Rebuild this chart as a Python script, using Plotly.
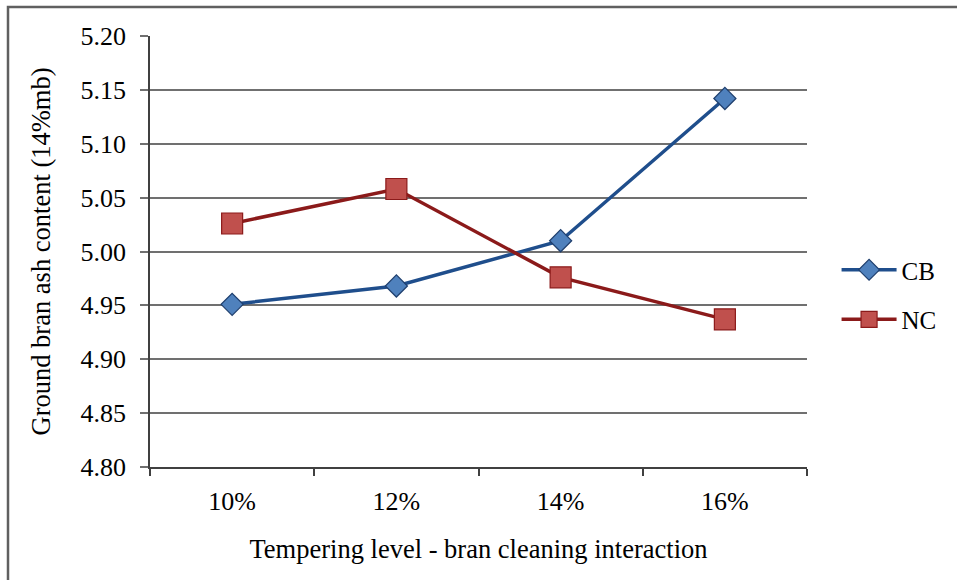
import plotly.graph_objects as go

categories = ["10%", "12%", "14%", "16%"]
cb_values = [4.951, 4.968, 5.010, 5.142]
nc_values = [5.026, 5.058, 4.976, 4.937]
y_ticks = [4.80, 4.85, 4.90, 4.95, 5.00, 5.05, 5.10, 5.15, 5.20]

FONT = "Liberation Serif"

fig = go.Figure()
fig.add_trace(go.Scatter(
    x=categories, y=cb_values, name="CB", mode="lines+markers",
    legendgroup="cb",
    line=dict(color="#1F4E8C", width=3.5),
    marker=dict(symbol="diamond", size=17, color="#4F81BD",
                line=dict(color="#1F3F6E", width=1.2)),
))
fig.add_trace(go.Scatter(
    x=categories, y=nc_values, name="NC", mode="lines+markers",
    legendgroup="nc",
    line=dict(color="#8B1A1A", width=3.5),
    marker=dict(symbol="square", size=21, color="#C0504D",
                line=dict(color="#8B1A1A", width=1.2)),
))

fig.update_layout(
    width=957, height=580,
    margin=dict(l=150, r=150, t=36, b=113),
    paper_bgcolor="white", plot_bgcolor="white",
    font=dict(family=FONT, size=26, color="#000000"),
    showlegend=True,
    legend=dict(x=1.045, y=0.40, xanchor="left", yanchor="middle",
                font=dict(family=FONT, size=25, color="#000000"),
                tracegroupgap=14, traceorder="grouped", itemwidth=55,
                bgcolor="rgba(0,0,0,0)"),
    xaxis=dict(
        type="category", tickson="boundaries", range=[-0.5, 3.5],
        ticks="outside", ticklen=7, tickcolor="#404040", tickwidth=1.5,
        showline=True, linecolor="#404040", linewidth=1.5,
        showgrid=False, zeroline=False,
        tickfont=dict(family=FONT, size=26),
        ticklabelstandoff=10,
        title=dict(text="Tempering level - bran cleaning interaction",
                   font=dict(family=FONT, size=26.5), standoff=24),
    ),
    yaxis=dict(
        range=[4.80, 5.20], tickvals=y_ticks,
        tickformat=".2f",
        ticks="outside", ticklen=8, tickcolor="#707070", tickwidth=1.5,
        showline=True, linecolor="#404040", linewidth=1.5,
        showgrid=True, gridcolor="#707070", gridwidth=1.5,
        zeroline=False,
        tickfont=dict(family=FONT, size=26),
        ticklabelstandoff=9,
        title=dict(text="Ground bran ash content (14%mb)",
                   font=dict(family=FONT, size=26.5), standoff=22),
    ),
    shapes=[dict(type="rect", xref="paper", yref="paper",
                 x0=-142/657, x1=1.4, y0=-0.5, y1=1 + 29/431,
                 line=dict(color="#606060", width=2.5), fillcolor="rgba(0,0,0,0)",
                 layer="below")],
)

fig.write_html("out.html")
